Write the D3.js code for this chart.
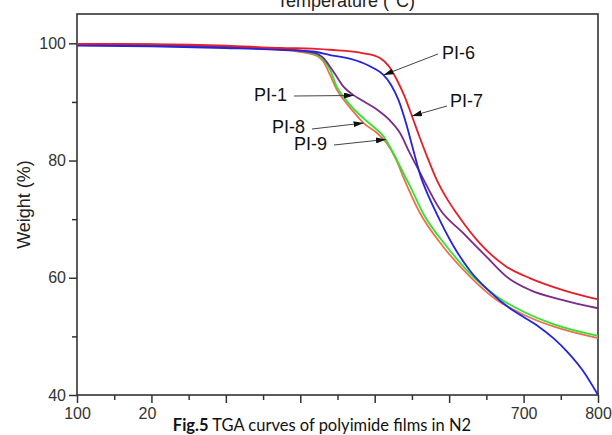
<!DOCTYPE html>
<html>
<head>
<meta charset="utf-8">
<script src="https://cdn.jsdelivr.net/npm/d3@7"></script>
<style>
  html, body { margin: 0; padding: 0; background: #fff; }
  svg { display: block; }
</style>
</head>
<body>
<svg id="chart" width="612" height="435"></svg>
<script>
// Temperature axis (°C) and weight axis (%)
const xTicks = [100, 200, 300, 400, 500, 600, 700, 800];
const xMinorTicks = [150, 250, 350, 450, 550, 650, 750];
const yTicks = [40, 60, 80, 100];
const yMinorTicks = [50, 70, 90];

// TGA curves: [temperature, weight %]
const pi7 = [[100,99.9],[200,99.85],[300,99.6],[373,99.2],[417,99.1],[440,98.9],[485,98.3],[507,97.5],[520,95.9],[530,93.7],[540,91.0],[550,87.6],[560,84.1],[570,80.8],[583,76.8],[597,73.5],[610,71.0],[641,65.9],[677,61.9],[709,59.9],[753,57.9],[800,56.3]];
const pi6 = [[100,99.6],[200,99.5],[300,99.2],[373,98.9],[417,98.6],[440,98.0],[462,97.5],[485,96.6],[498,95.8],[511,94.7],[522,92.9],[532,90.3],[542,86.4],[552,81.7],[561,77.6],[572,74.0],[583,71.0],[605,65.6],[628,61.2],[655,57.6],[686,54.4],[700,53.3],[720,51.7],[740,49.7],[760,47.2],[780,44.1],[800,40.0]];
const pi1 = [[100,99.9],[200,99.75],[300,99.4],[373,99.0],[417,98.4],[431,97.5],[440,96.0],[449,94.3],[458,92.6],[471,91.2],[485,90.1],[503,88.7],[520,86.9],[534,84.7],[547,81.3],[561,77.9],[588,71.6],[619,67.6],[650,63.6],[677,60.2],[709,57.9],[753,56.2],[800,54.8]];
const pi8 = [[100,99.8],[200,99.7],[300,99.3],[373,98.9],[417,98.1],[431,96.9],[440,94.6],[449,92.1],[458,90.4],[471,88.4],[485,86.4],[503,84.7],[516,83.0],[529,80.1],[538,77.3],[561,71.0],[592,65.3],[628,60.2],[664,56.2],[700,53.7],[740,51.7],[800,49.7]];
const pi9 = [[100,99.8],[200,99.7],[300,99.35],[373,99.0],[417,98.3],[431,97.2],[440,95.5],[449,92.6],[458,90.9],[471,88.9],[485,87.2],[498,85.8],[512,84.1],[525,81.3],[538,78.0],[548,75.5],[565,71.0],[597,65.3],[632,60.2],[664,56.8],[700,54.2],[740,52.1],[800,50.1]];

const series = [
  { name: "PI-8", data: pi8, color: "#ec6f52" },
  { name: "PI-9", data: pi9, color: "#2ee62e" },
  { name: "PI-1", data: pi1, color: "#7b2a8c" },
  { name: "PI-6", data: pi6, color: "#2424dc" },
  { name: "PI-7", data: pi7, color: "#e61e28" }
];

// Curve labels: text position and the point on the curve the arrow touches
const labels = [
  { text: "PI-6", tx: 442, ty: 59, from: [438, 54], to: [512, 94.6] },
  { text: "PI-7", tx: 450, ty: 107, from: [447, 106], to: [550, 87.6] },
  { text: "PI-1", tx: 254, ty: 101, from: [294, 96], to: [472, 91.1] },
  { text: "PI-8", tx: 272, ty: 133, from: [312, 129], to: [485, 86.4] },
  { text: "PI-9", tx: 294, ty: 150, from: [334, 145], to: [515, 83.6] }
];

const svg = d3.select("#chart");
const margin = { left: 77, right: 14, top: 14, bottom: 40 };
const W = 612, H = 435;

const x = d3.scaleLinear().domain([100, 800]).range([margin.left, W - margin.right]);
const y = d3.scaleLinear().domain([40, 105]).range([H - margin.bottom, margin.top]);

const axisColor = "#333";
const tickFont = "'Liberation Sans', Arial, sans-serif";

// Caption band on the bottom edge
const band = { x: 157, y: 404, w: 352, h: 31 };

// Arrowhead marker
const defs = svg.append("defs");
defs.append("marker")
  .attr("id", "arrow")
  .attr("viewBox", "0 0 10 6")
  .attr("refX", 10).attr("refY", 3)
  .attr("markerWidth", 10).attr("markerHeight", 6)
  .attr("markerUnits", "userSpaceOnUse")
  .attr("orient", "auto")
  .append("path").attr("d", "M0,0 L10,3 L0,6 Z").attr("fill", "#111");

// Minor ticks
const xMinor = svg.append("g")
  .attr("transform", `translate(0,${y(40)})`)
  .call(d3.axisBottom(x).tickValues(xMinorTicks).tickSize(5).tickFormat(""));
const yMinor = svg.append("g")
  .attr("transform", `translate(${x(100)},0)`)
  .call(d3.axisLeft(y).tickValues(yMinorTicks).tickSize(5).tickFormat(""));

// Major ticks with labels
const xAxis = svg.append("g")
  .attr("transform", `translate(0,${y(40)})`)
  .call(d3.axisBottom(x).tickValues(xTicks).tickSize(8).tickPadding(5).tickFormat(d3.format("d")));
const yAxis = svg.append("g")
  .attr("transform", `translate(${x(100)},0)`)
  .call(d3.axisLeft(y).tickValues(yTicks).tickSize(8).tickPadding(3).tickFormat(d3.format("d")));

[xMinor, yMinor, xAxis, yAxis].forEach(g => {
  g.select(".domain").remove();
  g.selectAll(".tick line").attr("stroke", axisColor).attr("stroke-width", 1.5);
  g.selectAll(".tick text").attr("fill", "#333").style("font-family", tickFont).style("font-size", "16px");
});

// The caption band hides the labels underneath it; the one at its edge is cut
xAxis.selectAll(".tick").each(function (d) {
  const px = x(d);
  const t = d3.select(this).select("text");
  if (px - 14 > band.x && px + 14 < band.x + band.w) t.remove();
  else if (px + 14 > band.x && px - 14 < band.x) {
    t.attr("clip-path", "url(#leftOfBandLocal)");
    d3.select(this).append("clipPath").attr("id", "leftOfBandLocal")
      .append("rect").attr("x", -40).attr("y", 0).attr("width", band.x - px + 40).attr("height", 30);
  }
});

// Plot frame
svg.append("rect")
  .attr("x", x(100)).attr("y", y(105))
  .attr("width", x(800) - x(100)).attr("height", y(40) - y(105))
  .attr("fill", "none").attr("stroke", axisColor).attr("stroke-width", 1.6);

// Curves
const line = d3.line()
  .x(d => x(d[0])).y(d => y(d[1]))
  .curve(d3.curveMonotoneX);

svg.append("g").selectAll("path")
  .data(series).join("path")
  .attr("d", d => line(d.data))
  .attr("fill", "none")
  .attr("stroke", d => d.color)
  .attr("stroke-width", 1.8);

// Labels and arrows
const lab = svg.append("g");
lab.selectAll("line").data(labels).join("line")
  .attr("x1", d => d.from[0]).attr("y1", d => d.from[1])
  .attr("x2", d => x(d.to[0])).attr("y2", d => y(d.to[1]))
  .attr("stroke", "#444").attr("stroke-width", 1)
  .attr("marker-end", "url(#arrow)");
lab.selectAll("text").data(labels).join("text")
  .attr("x", d => d.tx).attr("y", d => d.ty)
  .attr("fill", "#111")
  .style("font-family", tickFont).style("font-size", "18px")
  .text(d => d.text);

// Axis titles
svg.append("text")
  .attr("transform", `translate(30,${(y(40) + y(105)) / 2}) rotate(-90)`)
  .attr("text-anchor", "middle")
  .attr("fill", "#222")
  .style("font-family", tickFont).style("font-size", "18px")
  .text("Weight (%)");

svg.append("text")
  .attr("x", 346).attr("y", 7)
  .attr("text-anchor", "middle")
  .attr("fill", "#222")
  .style("font-family", tickFont).style("font-size", "18px")
  .text("Temperature (°C)");

// Figure caption on a white band
svg.append("rect")
  .attr("x", band.x).attr("y", band.y).attr("width", band.w).attr("height", band.h)
  .attr("fill", "#fff");
const cap = svg.append("text")
  .attr("x", 322).attr("y", 431)
  .attr("text-anchor", "middle")
  .attr("fill", "#111")
  .style("font-family", "Lato, 'Open Sans', sans-serif").style("font-size", "16.5px");
cap.append("tspan").style("font-weight", "bold").text("Fig.5");
cap.append("tspan").text(" TGA curves of polyimide films in N2");
</script>
</body>
</html>
